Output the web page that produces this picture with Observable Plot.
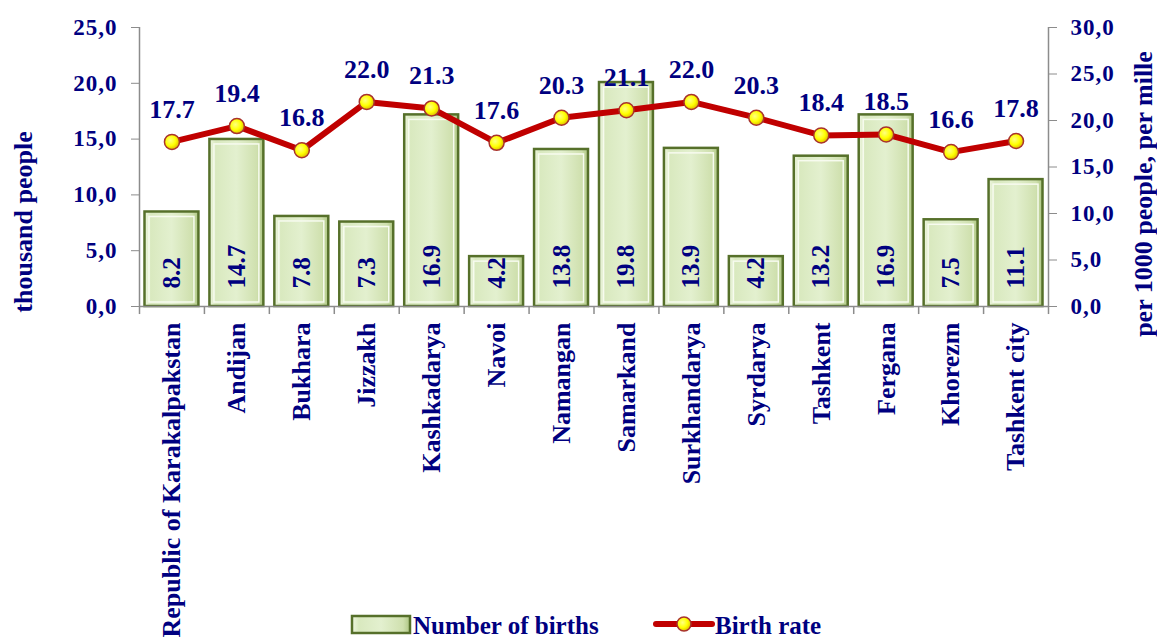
<!DOCTYPE html>
<html><head><meta charset="utf-8">
<script src="https://cdn.jsdelivr.net/npm/d3@7"></script>
<script src="https://cdn.jsdelivr.net/npm/@observablehq/plot@0.6"></script>
<style>
body{margin:0;background:#fff;overflow:hidden}
#wrap{position:relative;width:1157px;height:641px;overflow:hidden}
#legend{position:absolute;left:0;top:0}
</style></head><body><div id="wrap"></div>
<script>
const categories = ["Republic of Karakalpakstan","Andijan","Bukhara","Jizzakh","Kashkadarya","Navoi","Namangan","Samarkand","Surkhandarya","Syrdarya","Tashkent","Fergana","Khorezm","Tashkent city"];
const births = [8.2,14.7,7.8,7.3,16.9,4.2,13.8,19.8,13.9,4.2,13.2,16.9,7.5,11.1];
const rates = [17.7,19.4,16.8,22.0,21.3,17.6,20.3,21.1,22.0,20.3,18.4,18.5,16.6,17.8];
const leftTicks = [0,5,10,15,20,25];
const rightTicks = [0,5,10,15,20,25,30];
const seriesNames = ["Number of births","Birth rate"];
const leftTitle = "thousand people";
const rightTitle = "per 1000 people, per mille";

const W=1157,H=641,mL=139,mR=109,mT=27,mB=335;
const half=(W-mL-mR)/categories.length/2;
const toLeft=v=>v*25/30;
const data=categories.map((c,i)=>({c,b:births[i],r:rates[i]}));
const navy="#000080",grey="#8c8c8c",font="'Liberation Serif','Times New Roman',serif";
const comma=v=>v.toFixed(1).replace(".",",");

const chart=Plot.plot({
  width:W,height:H,marginLeft:mL,marginRight:mR,marginTop:mT,marginBottom:mB,
  style:{fontFamily:font,fontWeight:"bold",color:navy,background:"transparent"},
  x:{type:"band",domain:categories,padding:0,round:false,label:null},
  y:{domain:[0,25],label:null},
  marks:[
    Plot.barY(data,{x:"c",y:"b",fill:"url(#barGrad)",stroke:"#56702a",strokeWidth:2.5,insetLeft:5.5,insetRight:5.5,insetTop:-3}),
    Plot.barY(data,{x:"c",y:"b",fill:"none",stroke:"#f7fbef",strokeWidth:1.5,insetLeft:10,insetRight:10,insetTop:2,insetBottom:4}),
    Plot.ruleY([0],{stroke:grey,strokeWidth:1.5}),
    Plot.ruleX([categories[0]],{x:d=>d,y1:0,y2:25,dx:-half,stroke:grey,strokeWidth:1.5}),
    Plot.ruleX([categories[categories.length-1]],{x:d=>d,y1:0,y2:25,dx:half,stroke:grey,strokeWidth:1.5}),
    Plot.ruleX(categories,{x:d=>d,y1:0,y2:-0.72,dx:-half,stroke:grey,strokeWidth:1.5}),
    Plot.ruleX([categories[categories.length-1]],{x:d=>d,y1:0,y2:-0.72,dx:half,stroke:grey,strokeWidth:1.5}),
    Plot.axisY(leftTicks,{anchor:"left",tickSize:8,tickPadding:14,tickFormat:comma,fontSize:23,stroke:grey,fill:navy,label:null}),
    Plot.axisY(rightTicks.map(toLeft),{anchor:"right",tickSize:8,tickPadding:14,tickFormat:d=>comma(d*30/25),fontSize:23,stroke:grey,fill:navy,label:null}),
    Plot.axisX({tickRotate:-90,tickSize:0,tickPadding:16,fontSize:26,fill:navy,label:null}),
    Plot.text(data,{x:"c",y:0,text:d=>d.b.toFixed(1),rotate:-90,textAnchor:"start",lineAnchor:"middle",dy:-18,fontSize:25,fill:navy}),
    Plot.line(data,{x:"c",y:d=>toLeft(d.r),stroke:"#c00000",strokeWidth:6}),
    Plot.dot(data,{x:"c",y:d=>toLeft(d.r),r:7.5,fill:"url(#dotGrad)",stroke:"#a8322d",strokeWidth:1.5}),
    Plot.text(data,{x:"c",y:d=>toLeft(d.r),text:d=>d.r.toFixed(1),dy:-24,lineAnchor:"bottom",fontSize:26,fill:navy}),
    Plot.text([leftTitle],{text:d=>d,frameAnchor:"left",textAnchor:"middle",dx:-116,dy:55,rotate:-90,fontSize:26,fill:navy}),
    Plot.text([rightTitle],{text:d=>d,frameAnchor:"right",textAnchor:"middle",dx:95,dy:27,rotate:-90,fontSize:26,fill:navy})
  ]
});

const wrap=document.getElementById("wrap");
wrap.appendChild(chart);
const svg=d3.select(chart);
const defs=svg.insert("defs",":first-child");
const bg=defs.append("linearGradient").attr("id","barGrad").attr("x1",0).attr("x2",1).attr("y1",0).attr("y2",0);
[[0,"#eef6e0"],[0.12,"#d9e9bf"],[0.5,"#e3f0cf"],[0.88,"#cfe0ae"],[1,"#aec683"]].forEach(([o,c])=>bg.append("stop").attr("offset",o).attr("stop-color",c));
const dg=defs.append("radialGradient").attr("id","dotGrad").attr("cx",0.4).attr("cy",0.4).attr("r",0.6);
[[0,"#ffff80"],[0.6,"#ffff00"],[1,"#e0c000"]].forEach(([o,c])=>dg.append("stop").attr("offset",o).attr("stop-color",c));
svg.selectAll('g[aria-label="y-axis tick label"] text').style("letter-spacing","1px");

// legend
const lg=d3.select(wrap).append("svg").attr("id","legend").attr("width",W).attr("height",H)
  .style("font-family",font).style("font-weight","bold").style("font-size","25px");
lg.append("rect").attr("x",352).attr("y",616).attr("width",58).attr("height",17).attr("fill","url(#barGrad)").attr("stroke","#56702a").attr("stroke-width",2.5);
lg.append("text").attr("x",413).attr("y",634).attr("fill",navy).text(seriesNames[0]);
lg.append("line").attr("x1",656).attr("x2",712).attr("y1",624).attr("y2",624).attr("stroke","#c00000").attr("stroke-width",6).attr("stroke-linecap","round");
lg.append("circle").attr("cx",684).attr("cy",624).attr("r",7).attr("fill","url(#dotGrad)").attr("stroke","#a8322d").attr("stroke-width",1.5);
lg.append("text").attr("x",715).attr("y",634).attr("fill",navy).text(seriesNames[1]);
</script></body></html>
